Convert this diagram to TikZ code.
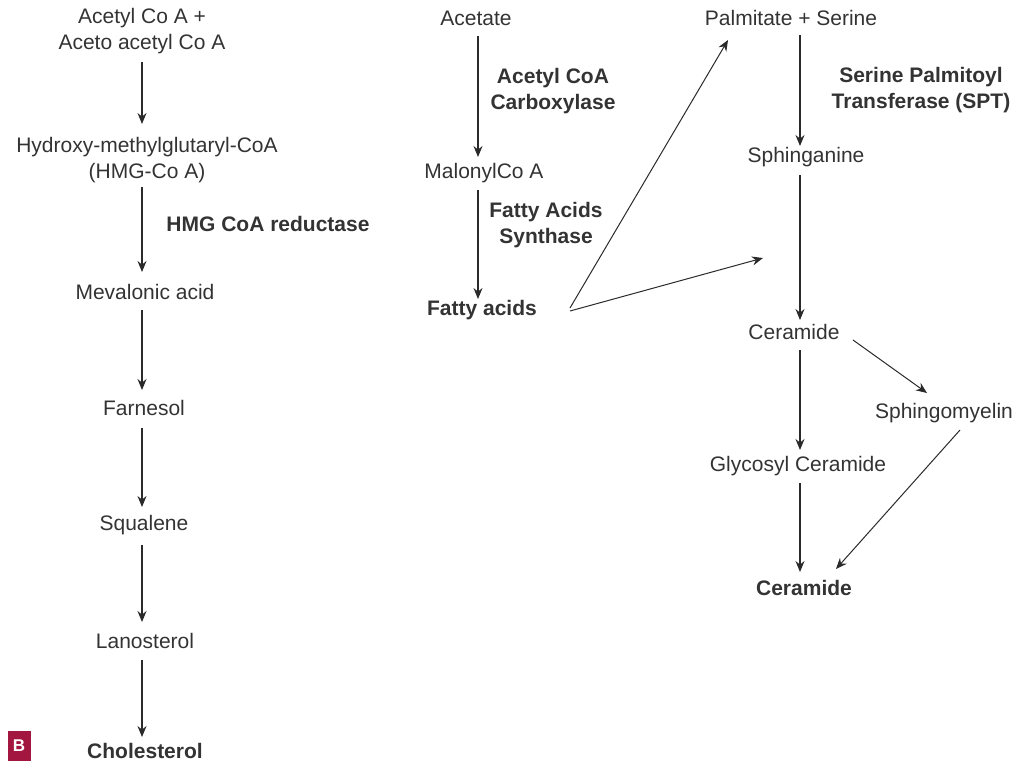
\documentclass[tikz,border=0pt]{standalone}
\usepackage{fontspec}
\setmainfont{Liberation Sans}
\usetikzlibrary{arrows.meta}
\definecolor{txt}{HTML}{333333}
\definecolor{ln}{HTML}{2A2A2A}
\definecolor{bred}{HTML}{A3163F}
\begin{document}
\begin{tikzpicture}[x=1pt,y=-1pt,
  every node/.style={inner sep=0pt,text=txt,font=\fontsize{21}{26}\selectfont,align=center},
  bnode/.style={font=\fontsize{21}{26}\selectfont\bfseries},
  arr/.style={draw=ln,line width=1.3pt,-{Stealth[length=11pt,width=9pt]}},
  thin arr/.style={draw=ln,line width=1pt,-{Stealth[length=11pt,width=9pt]}}]
\useasboundingbox (0,0) rectangle (1018,766);
% left column
\node (acc) at (142,31) {Acetyl Co A +\\Aceto acetyl Co A};
\node (hmg) at (147,160) {Hydroxy-methylglutaryl-CoA\\(HMG-Co A)};
\node[bnode] (red) at (268,224) {HMG CoA reductase};
\node (mev) at (145,292) {Mevalonic acid};
\node (far) at (144,408) {Farnesol};
\node (squ) at (144,525) {Squalene};
\node (lan) at (145,641) {Lanosterol};
\node[bnode] (cho) at (145,751) {Cholesterol};
\node[fill=bred,minimum width=23pt,minimum height=30pt,text=white,font=\fontsize{17}{17}\selectfont\bfseries] (bb) at (19,746) {B};
\coordinate (a1s) at (142,62); \coordinate (a1e) at (142,124);
\draw[arr] (a1s) -- (a1e);
\coordinate (a2s) at (142,187); \coordinate (a2e) at (142,272);
\draw[arr] (a2s) -- (a2e);
\coordinate (a3s) at (142,310); \coordinate (a3e) at (142,390);
\draw[arr] (a3s) -- (a3e);
\coordinate (a4s) at (142,428); \coordinate (a4e) at (142,507);
\draw[arr] (a4s) -- (a4e);
\coordinate (a5s) at (142,545); \coordinate (a5e) at (142,622);
\draw[arr] (a5s) -- (a5e);
\coordinate (a6s) at (142,660); \coordinate (a6e) at (142,737);
\draw[arr] (a6s) -- (a6e);
% middle column
\node (ace) at (476,18) {Acetate};
\node[bnode] (acc2) at (553,91) {Acetyl CoA\\Carboxylase};
\node (mal) at (484,173) {MalonylCo A};
\node[bnode] (fas) at (546,225) {Fatty Acids\\Synthase};
\node[bnode] (fa) at (482,310) {Fatty acids};
\coordinate (b1s) at (478,36); \coordinate (b1e) at (478,157);
\draw[arr] (b1s) -- (b1e);
\coordinate (b2s) at (478,190); \coordinate (b2e) at (478,299);
\draw[arr] (b2s) -- (b2e);
\coordinate (f1) at (570,308); \coordinate (f1e) at (728,40);
\draw[thin arr] (f1) -- (f1e);
\coordinate (f2) at (570,311); \coordinate (f2e) at (763,258);
\draw[thin arr] (f2) -- (f2e);
% right column
\node (pal) at (791,18) {Palmitate + Serine};
\node[bnode] (spt) at (921,90) {Serine Palmitoyl\\Transferase (SPT)};
\node (sph) at (806,157) {Sphinganine};
\node (cer) at (794,332) {Ceramide};
\node (sm) at (944,413) {Sphingomyelin};
\node (gly) at (798,466) {Glycosyl Ceramide};
\node[bnode] (cer2) at (804,588) {Ceramide};
\coordinate (c1s) at (800,35); \coordinate (c1e) at (800,146);
\draw[arr] (c1s) -- (c1e);
\coordinate (c2s) at (800,175); \coordinate (c2e) at (800,320);
\draw[arr] (c2s) -- (c2e);
\coordinate (c3s) at (800,350); \coordinate (c3e) at (800,450);
\draw[arr] (c3s) -- (c3e);
\coordinate (c4s) at (800,483); \coordinate (c4e) at (800,572);
\draw[arr] (c4s) -- (c4e);
\coordinate (d1s) at (853,340); \coordinate (d1e) at (927,393);
\draw[thin arr] (d1s) -- (d1e);
\coordinate (d2s) at (960,430); \coordinate (d2e) at (836,569);
\draw[thin arr] (d2s) -- (d2e);
\end{tikzpicture}
\end{document}
